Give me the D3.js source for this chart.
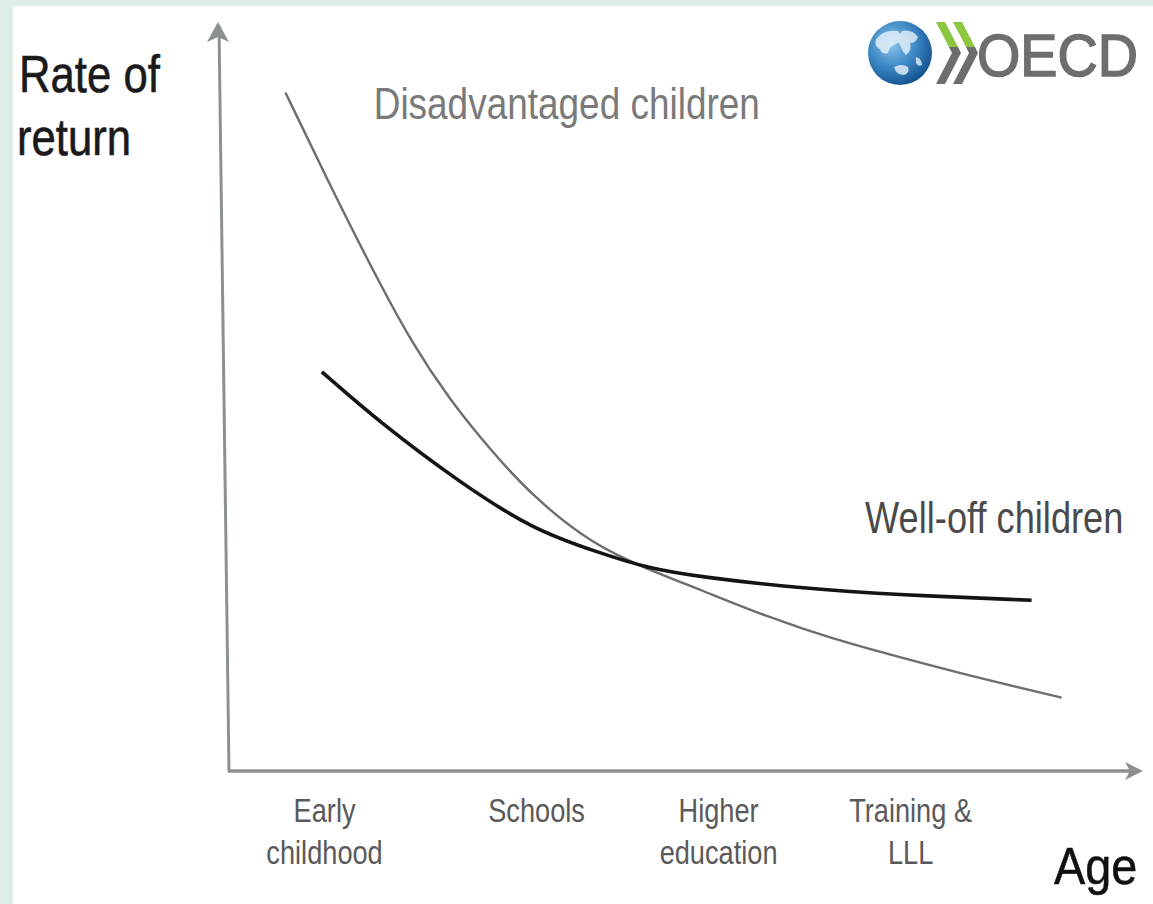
<!DOCTYPE html>
<html><head><meta charset="utf-8">
<script src="https://cdn.jsdelivr.net/npm/d3@7"></script>
<style>html,body{margin:0;padding:0;background:#fff;} svg{display:block;}</style>
</head><body>
<svg id="chart" width="1153" height="904"></svg>
<script>
// ---- data ----
const categories = [["Early", "childhood"], ["Schools"], ["Higher", "education"], ["Training &", "LLL"]];
const categoryPos = [10.5, 33.8, 53.8, 74.9];

const disadvX = [6.2, 11.1, 15.9, 20.2, 24.3, 28.7, 33.4, 40.0, 45.9, 51.8, 59.1, 66.4, 73.7, 81.1, 91.5];
const disadvY = [90.6, 78.2, 66.6, 56.9, 49.5, 42.9, 36.6, 30.2, 27.0, 24.2, 20.6, 17.6, 15.2, 12.8, 9.8];

const welloffX = [10.2, 16.9, 25.4, 33.4, 40.8, 45.9, 51.8, 62.8, 73.7, 88.2];
const welloffY = [53.3, 46.2, 38.5, 32.2, 29.1, 27.1, 25.9, 24.4, 23.5, 22.8];

const seriesNames = ["Disadvantaged children", "Well-off children"];
const seriesLabelAt = [[15.9, 87.0], [69.9, 31.8]];
const yTitle = ["Rate of", "return"];
const xTitle = "Age";

// ---- layout ----
const W = 1153, H = 904;
const FONT = "'Liberation Sans', Arial, sans-serif";
const svg = d3.select("#chart");

const x = d3.scaleLinear().domain([0, 100]).range([229, 1139]);
const y = d3.scaleLinear().domain([0, 100]).range([771, 22]);

// background frame
svg.append("rect").attr("width", W).attr("height", H).attr("fill", "#dfefe5");
svg.append("rect").attr("x", 13).attr("y", 6).attr("width", W - 13).attr("height", H - 6).attr("fill", "#ffffff");

function ctext(str, px, py, size, sx, fill, anchor, weight) {
  return svg.append("text")
    .attr("transform", `translate(${px},${py}) scale(${sx},1)`)
    .attr("text-anchor", anchor || "start")
    .attr("font-family", FONT)
    .attr("font-size", size)
    .attr("font-weight", weight || "normal")
    .attr("fill", fill)
    .text(str);
}

// ---- axes (arrows) ----
const axisCol = "#8b918e";
const x0 = x.range()[0], x1 = x.range()[1];
const y0 = y.range()[0], y1 = y.range()[1];
// y axis (slightly slanted as in original)
svg.append("line").attr("x1", x0).attr("y1", y0 + 1).attr("x2", x0 - 10).attr("y2", y1 + 4)
  .attr("stroke", axisCol).attr("stroke-width", 3);
svg.append("path")
  .attr("d", `M${x0 - 11},${y1} L${x0 - 22},${y1 + 20} L${x0 - 11},${y1 + 15} L${x0},${y1 + 20} Z`)
  .attr("fill", axisCol);
// x axis
svg.append("line").attr("x1", x0 - 1).attr("y1", y0).attr("x2", x1 - 2).attr("y2", y0)
  .attr("stroke", axisCol).attr("stroke-width", 3.5);
svg.append("path")
  .attr("d", `M${x1 + 4},${y0} L${x1 - 14},${y0 - 9} L${x1 - 9},${y0} L${x1 - 14},${y0 + 9} Z`)
  .attr("fill", axisCol);

// ---- category labels ----
categories.forEach((lines, i) => {
  lines.forEach((ln, j) => {
    ctext(ln, x(categoryPos[i]), 822 + j * 42, 34, 0.8, "#5a5a5a", "middle");
  });
});

// ---- titles ----
ctext(yTitle[0], 19, 92, 52, 0.84, "#1a1a1a").attr("stroke", "#1a1a1a").attr("stroke-width", 0.6);
ctext(yTitle[1], 17, 155, 52, 0.84, "#1a1a1a").attr("stroke", "#1a1a1a").attr("stroke-width", 0.6);
ctext(xTitle, 1054, 884, 52, 0.9, "#111").attr("stroke", "#111").attr("stroke-width", 0.5);

// ---- curves ----
const line = d3.line().x(d => x(d[0])).y(d => y(d[1])).curve(d3.curveBasis);
const disadv = disadvX.map((v, i) => [v, disadvY[i]]);
const welloff = welloffX.map((v, i) => [v, welloffY[i]]);

svg.append("path").attr("d", line(disadv)).attr("fill", "none")
  .attr("stroke", "#6e6e6e").attr("stroke-width", 2.4);
svg.append("path").attr("d", line(welloff)).attr("fill", "none")
  .attr("stroke", "#141414").attr("stroke-width", 3.6);

// series labels
ctext(seriesNames[0], x(seriesLabelAt[0][0]), y(seriesLabelAt[0][1]), 44, 0.84, "#7a7a7a");
ctext(seriesNames[1], x(seriesLabelAt[1][0]), y(seriesLabelAt[1][1]), 45, 0.805, "#4a4a4a");

// ---- OECD logo ----
const defs = svg.append("defs");
const grad = defs.append("radialGradient").attr("id", "globe").attr("cx", "38%").attr("cy", "35%").attr("r", "70%");
grad.append("stop").attr("offset", "0%").attr("stop-color", "#8cc4ea");
grad.append("stop").attr("offset", "55%").attr("stop-color", "#3a86c4");
grad.append("stop").attr("offset", "100%").attr("stop-color", "#124f8c");
const gx = 900, gy = 53, gr = 32;
svg.append("circle").attr("cx", gx).attr("cy", gy).attr("r", gr).attr("fill", "url(#globe)");
const land = svg.append("g").attr("fill", "#e8f2fa").attr("opacity", 0.8);
land.append("path").attr("d", `M${gx - 24},${gy - 14} q8,-10 22,-8 q6,6 0,12 q-8,2 -10,10 q-6,2 -8,-4 q-6,-2 -4,-10 Z`);
land.append("path").attr("d", `M${gx + 2},${gy - 22} q10,-2 16,6 q-2,6 -8,6 q2,8 -4,12 q-4,-4 -6,-10 q-4,-6 2,-14 Z`);
land.append("path").attr("d", `M${gx - 6},${gy + 14} q8,-4 14,0 q2,6 -4,8 q-8,0 -10,-8 Z`);
land.append("path").attr("d", `M${gx + 16},${gy + 4} q6,2 6,8 q-4,2 -6,-2 Z`);

const chevG = "#8dc63f", chevS = "#6b6d6f";
[0, 17].forEach(dx => {
  const a = 936 + dx;
  svg.append("path").attr("d", `M${a},22 L${a + 9},22 L${a + 22},47 L${a + 13},47 Z`).attr("fill", chevG);
  svg.append("path").attr("d", `M${a + 13},47 L${a + 22},47 L${a + 25},53 L${a + 9},84 L${a},84 L${a + 16},53 Z`).attr("fill", chevS);
});
svg.append("text").attr("x", 977).attr("y", 76).attr("font-family", FONT).attr("font-size", 60)
  .attr("fill", "#6d6e70").attr("stroke", "#6d6e70").attr("stroke-width", 1.6)
  .attr("textLength", 161).attr("lengthAdjust", "spacingAndGlyphs").text("OECD");
</script>
</body></html>
